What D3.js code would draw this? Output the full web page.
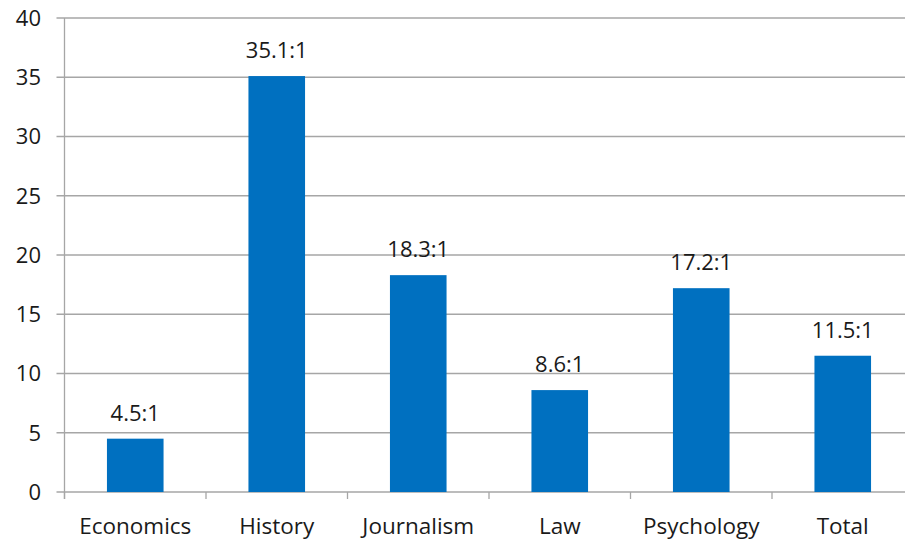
<!DOCTYPE html>
<html>
<head>
<meta charset="utf-8">
<script src="https://cdn.jsdelivr.net/npm/d3@7"></script>
<style>
  body { margin: 0; background: #fff; }
  svg text { font-family: "Open Sans", "Liberation Sans", sans-serif; fill: #1a1a1a; }
</style>
</head>
<body>
<div id="chart"></div>
<script>
// Chart data;
var categories = ["Economics", "History", "Journalism", "Law", "Psychology", "Total"]
var ratios = [4.5, 35.1, 18.3, 8.6, 17.2, 11.5]
var ratioLabels = ["4.5:1", "35.1:1", "18.3:1", "8.6:1", "17.2:1", "11.5:1"]
var yTicks = [0, 5, 10, 15, 20, 25, 30, 35, 40]

var width = 905
var height = 542
var margin = { top: 18, right: -8.5, bottom: 50, left: 64.5 }

const svg = d3.select("#chart").append("svg")
    .attr("width", width)
    .attr("height", height)

var x = d3.scaleBand()
    .domain(categories)
    .range([margin.left, width - margin.right])
    .paddingInner(0.6)
    .paddingOuter(0.3)

var y = d3.scaleLinear()
    .domain([0, 40])
    .range([height - margin.bottom, margin.top])

// Gridlines, with small ticks poking left of the axis;
svg.append("g")
    .selectAll("line")
    .data(yTicks)
    .join("line")
    .attr("x1", margin.left - 8)
    .attr("x2", width)
    .attr("y1", d => y(d))
    .attr("y2", d => y(d))
    .attr("stroke", "#a6a6a6")
    .attr("stroke-width", 1.3)

// Y axis line;
svg.append("line")
    .attr("x1", margin.left).attr("x2", margin.left)
    .attr("y1", y(40)).attr("y2", y(0) + 7)
    .attr("stroke", "#a6a6a6")
    .attr("stroke-width", 1.3)

// Category tick marks between bars;
var step = x.step()
svg.append("g")
    .selectAll("line")
    .data(d3.range(categories.length + 1))
    .join("line")
    .attr("x1", i => margin.left + i * step)
    .attr("x2", i => margin.left + i * step)
    .attr("y1", y(0))
    .attr("y2", y(0) + 7)
    .attr("stroke", "#a6a6a6")
    .attr("stroke-width", 1.3)

// Y tick labels;
svg.append("g")
    .selectAll("text")
    .data(yTicks)
    .join("text")
    .attr("x", 41)
    .attr("y", d => y(d))
    .attr("dy", "0.36em")
    .attr("text-anchor", "end")
    .attr("font-size", 22)
    .text(d => d)

// Bars;
svg.append("g")
    .selectAll("rect")
    .data(ratios)
    .join("rect")
    .attr("x", (d, i) => x(categories[i]))
    .attr("width", x.bandwidth())
    .attr("y", d => y(d))
    .attr("height", d => y(0) - y(d))
    .attr("fill", "#0070c0")

// Value labels;
svg.append("g")
    .selectAll("text")
    .data(ratios)
    .join("text")
    .attr("x", (d, i) => x(categories[i]) + x.bandwidth() / 2)
    .attr("y", d => y(d) - 18)
    .attr("text-anchor", "middle")
    .attr("font-size", 22)
    .text((d, i) => ratioLabels[i])

// Category labels;
svg.append("g")
    .selectAll("text")
    .data(categories)
    .join("text")
    .attr("x", d => x(d) + x.bandwidth() / 2)
    .attr("y", y(0) + 42)
    .attr("text-anchor", "middle")
    .attr("font-size", 22.5)
    .text(d => d)
</script>
</body>
</html>
